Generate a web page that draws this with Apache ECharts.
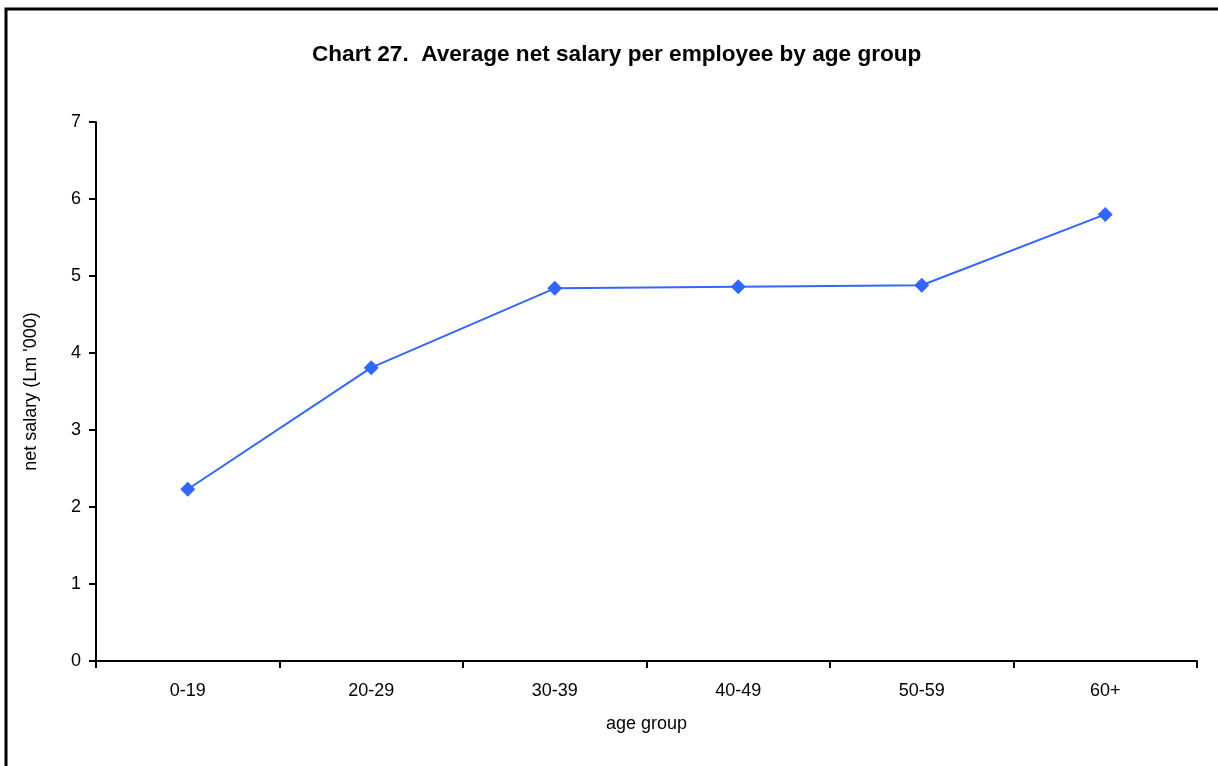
<!DOCTYPE html>
<html>
<head>
<meta charset="utf-8">
<script src="https://cdn.jsdelivr.net/npm/echarts@6/dist/echarts.min.js"></script>
<style>
html, body { margin: 0; padding: 0; background: #fff; }
#main { width: 1218px; height: 766px; }
</style>
</head>
<body>
<div id="main"></div>
<script>
var ageGroups = ['0-19', '20-29', '30-39', '40-49', '50-59', '60+'];
var netSalary = [2.23, 3.81, 4.84, 4.86, 4.88, 5.8];
var yTicks = { min: 0, max: 7, interval: 1 };

var myChart = echarts.init(document.getElementById('main'));
var font = '"Liberation Sans", Arial, sans-serif';

var option = {
    backgroundColor: '#fff',
    animation: false,
    title: {
        text: 'Chart 27.  Average net salary per employee by age group',
        left: 312,
        top: 43,
        padding: 0,
        textStyle: { fontFamily: font, fontSize: 22.6, fontWeight: 'bold', color: '#000' }
    },
    graphic: [
        {
            type: 'rect',
            shape: { x: 6, y: 9, width: 1400, height: 900 },
            style: { fill: null, stroke: '#000', lineWidth: 3 },
            silent: true
        }
    ],
    grid: {
        left: 96,
        right: 21,
        top: 122,
        bottom: 105,
        containLabel: false
    },
    xAxis: {
        type: 'category',
        data: ageGroups,
        boundaryGap: true,
        name: 'age group',
        nameLocation: 'middle',
        nameGap: 54,
        nameTextStyle: { fontFamily: font, fontSize: 18, color: '#000' },
        axisLine: { lineStyle: { color: '#000', width: 2 } },
        axisTick: { show: true, length: 7, lineStyle: { color: '#000', width: 2 } },
        axisLabel: { fontFamily: font, fontSize: 18, color: '#000', margin: 21 },
        splitLine: { show: false }
    },
    yAxis: {
        type: 'value',
        min: yTicks.min,
        max: yTicks.max,
        interval: yTicks.interval,
        name: "net salary (Lm '000)",
        nameLocation: 'middle',
        nameGap: 56,
        nameRotate: 90,
        nameTextStyle: { fontFamily: font, fontSize: 18, color: '#000' },
        axisLine: { show: true, lineStyle: { color: '#000', width: 2 } },
        axisTick: { show: true, length: 7, lineStyle: { color: '#000', width: 2 } },
        axisLabel: { fontFamily: font, fontSize: 18, color: '#000', margin: 15 },
        splitLine: { show: false }
    },
    series: [
        {
            name: 'net salary',
            type: 'line',
            data: netSalary,
            symbol: 'diamond',
            symbolSize: 15,
            lineStyle: { color: '#3366FF', width: 2 },
            itemStyle: { color: '#3366FF' }
        }
    ]
};

myChart.setOption(option);
</script>
</body>
</html>
